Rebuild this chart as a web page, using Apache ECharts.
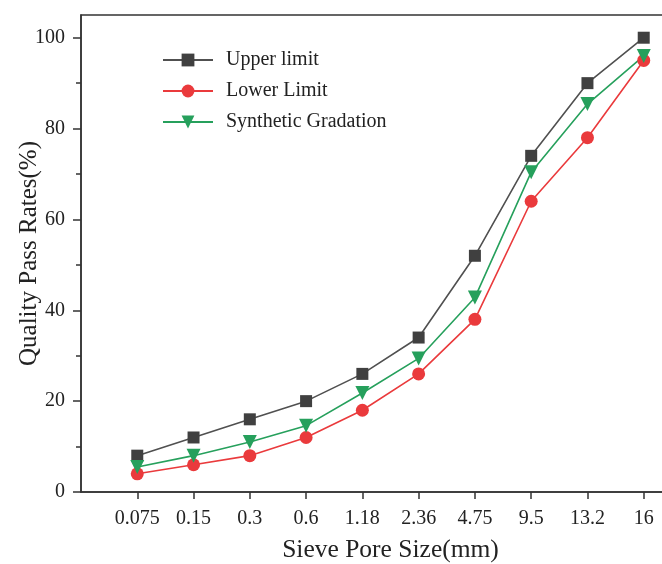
<!DOCTYPE html>
<html>
<head>
<meta charset="utf-8">
<script src="https://cdn.jsdelivr.net/npm/echarts@6/dist/echarts.min.js"></script>
<style>html,body{margin:0;padding:0;background:#fff;}#c{width:662px;height:564px;}</style>
</head>
<body>
<div id="c"></div>
<script>
const categories = ['0.075','0.15','0.3','0.6','1.18','2.36','4.75','9.5','13.2','16'];
const upperLimit = [8, 12, 16, 20, 26, 34, 52, 74, 90, 100];
const lowerLimit = [4, 6, 8, 12, 18, 26, 38, 64, 78, 95];
const synthetic = [5.5, 8, 11, 14.6, 21.8, 29.4, 42.8, 70.4, 85.4, 96];
const yTicks = [0, 20, 40, 60, 80, 100];

const toPts = arr => arr.map((v, i) => [i + 1, v]);
const catPos = categories.map((c, i) => i + 1);
const font = '"Liberation Serif", "Times New Roman", serif';

const chart = echarts.init(document.getElementById('c'), null, {renderer: 'canvas'});
chart.setOption({
  animation: false,
  backgroundColor: '#fff',
  grid: {left: 81, top: 15, width: 619, height: 477, outerBoundsMode: 'none', containLabel: false,
    show: true, borderColor: '#333', borderWidth: 1.5, backgroundColor: 'transparent'},
  legend: {
    left: 157, top: 45, orient: 'vertical', itemWidth: 50, itemHeight: 16, itemGap: 11,
    textStyle: {fontFamily: font, fontSize: 20, color: '#222', lineHeight: 20, padding: [0, 0, 0, 8]},
    data: ['Upper limit', 'Lower Limit', 'Synthetic Gradation']
  },
  xAxis: {
    type: 'value', min: 0, max: 11, interval: 1,
    name: 'Sieve Pore Size(mm)', nameLocation: 'middle', nameGap: 45, nameMoveOverlap: false,
    nameTextStyle: {fontFamily: font, fontSize: 25.5, color: '#222'},
    axisLine: {show: true, lineStyle: {color: '#333', width: 1.5}},
    axisTick: {show: true, inside: false, length: 7, lineStyle: {color: '#333', width: 1.5}, customValues: catPos},
    axisLabel: {fontFamily: font, fontSize: 20, color: '#222', margin: 17, customValues: catPos,
      formatter: v => categories[Math.round(v) - 1] || ''},
    splitLine: {show: false}
  },
  yAxis: {
    type: 'value', min: 0, max: 105, interval: 20,
    name: 'Quality Pass Rates(%)', nameLocation: 'middle', nameGap: 39, nameMoveOverlap: false,
    nameTextStyle: {fontFamily: font, fontSize: 25, color: '#222'},
    axisLine: {show: true, lineStyle: {color: '#333', width: 1.5}},
    axisTick: {show: true, inside: false, length: 8, lineStyle: {color: '#333', width: 1.5}, customValues: yTicks},
    minorTick: {show: true, splitNumber: 2, length: 5, lineStyle: {color: '#333', width: 1.5}},
    axisLabel: {fontFamily: font, fontSize: 20, color: '#222', margin: 16, customValues: yTicks},
    splitLine: {show: false}
  },
  series: [
    {name: 'Upper limit', type: 'line', data: toPts(upperLimit), symbol: 'rect', symbolSize: 12,
      itemStyle: {color: '#404040'}, lineStyle: {color: '#505050', width: 1.6}},
    {name: 'Lower Limit', type: 'line', data: toPts(lowerLimit), symbol: 'circle', symbolSize: 13,
      itemStyle: {color: '#ea3a3c'}, lineStyle: {color: '#ea3a3c', width: 1.6}},
    {name: 'Synthetic Gradation', type: 'line', data: toPts(synthetic), symbol: 'triangle', symbolRotate: 180, symbolSize: 14,
      itemStyle: {color: '#26a05c'}, lineStyle: {color: '#26a05c', width: 1.6}}
  ]
});
</script>
</body>
</html>
